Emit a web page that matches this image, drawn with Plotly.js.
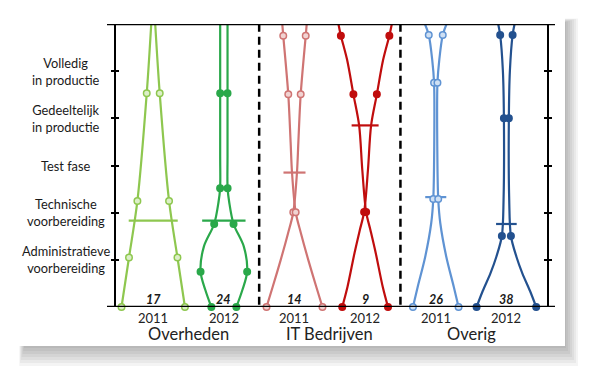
<!DOCTYPE html>
<html>
<head>
<meta charset="utf-8">
<script src="https://cdn.plot.ly/plotly-3.0.1.min.js"></script>
<style>html,body{margin:0;padding:0;background:#fff;}#chart{width:595px;height:378px;}</style>
</head>
<body>
<div id="chart"></div>
<script>
// ---- data ----
const groupNames = ['Overheden', 'IT Bedrijven', 'Overig'];
const yearLabels = ['2011', '2012', '2011', '2012', '2011', '2012'];
const counts = [17, 24, 14, 9, 26, 38];
const stageLabels = ['Administratieve<br>voorbereiding', 'Technische<br>voorbereiding', 'Test fase',
                     'Gedeeltelijk<br>in productie', 'Volledig<br>in productie'];
const stageValues = [1, 2, 3, 4, 5];

// profile of each shape: level (y) and offset of one curve from the centre (x units)
const ov11Level = [0, 1.05, 2.25, 4.53, 6.0];
const ov11Width = [0.449, 0.343, 0.224, 0.092, 0.028];
const ov11Dots  = [0, 1, 2, 3];

const ov12Level = [0, 0.36, 0.75, 1.28, 1.76, 2.22, 2.52, 3.2, 4.53, 6.0];
const ov12Width = [0.177, 0.262, 0.330, 0.283, 0.137, 0.076, 0.053, 0.052, 0.052, 0.052];
const ov12Dots  = [0, 2, 4, 6, 8];

const it11Level = [0, 0.445, 1.0, 1.57, 2.01, 2.85, 3.5, 4.51, 5.75, 6.0];
const it11Width = [0.396, 0.305, 0.195, 0.090, 0.017, -0.035, -0.055, -0.088, -0.159, -0.173];
const it11Dots  = [0, 4, 7, 8];

const it12Level = [0, 0.424, 1.145, 1.632, 2.014, 2.904, 3.852, 4.509, 5.24, 5.752, 6.0];
const it12Width = [0.324, 0.250, 0.150, 0.075, 0.014, -0.040, -0.085, -0.166, -0.255, -0.343, -0.378];
const it12Dots  = [0, 4, 7, 9];

const ovr11Level = [0, 0.43, 1.066, 1.781, 2.29, 3.33, 4.755, 5.24, 5.766, 6.0];
const ovr11Width = [0.323, 0.255, 0.149, 0.064, 0.035, 0.022, 0.024, 0.050, 0.099, 0.153];
const ovr11Dots  = [0, 4, 6, 8];

const ovr12Level = [0, 0.339, 0.714, 1.066, 1.505, 2.27, 4.0, 5.02, 5.766, 6.0];
const ovr12Width = [0.422, 0.335, 0.226, 0.142, 0.064, 0.040, 0.035, 0.050, 0.088, 0.116];
const ovr12Dots  = [0, 4, 6, 8];

const meanLevel = [1.83, 1.83, 2.85, 3.85, 2.33, 1.76];
const meanHalf  = [0.347, 0.307, 0.156, 0.191, 0.149, 0.146];

// ---- styles ----
const lineColors = ['#8ec74f', '#2aa84a', '#cf7473', '#c00d0d', '#5f93d3', '#23518f'];
const dotFill    = ['#dcefc8', '#2aa84a', '#f1d3d2', '#c00d0d', '#cfe0f4', '#23518f'];

const profiles = [
  [ov11Level, ov11Width, ov11Dots],
  [ov12Level, ov12Width, ov12Dots],
  [it11Level, it11Width, it11Dots],
  [it12Level, it12Width, it12Dots],
  [ovr11Level, ovr11Width, ovr11Dots],
  [ovr12Level, ovr12Width, ovr12Dots]
];

const traces = [];
profiles.forEach(function (p, k) {
  const lv = p[0], w = p[1], d = p[2];
  [-1, 1].forEach(function (s) {
    traces.push({
      x: w.map(function (v) { return k + s * v; }), y: lv,
      mode: 'lines', line: {color: lineColors[k], width: 2.2, shape: 'spline', smoothing: 0.9},
      hoverinfo: 'skip', showlegend: false
    });
  });
  traces.push({
    x: [k - meanHalf[k], k + meanHalf[k]], y: [meanLevel[k], meanLevel[k]],
    mode: 'lines', line: {color: lineColors[k], width: 2.2},
    hoverinfo: 'skip', showlegend: false
  });
  [-1, 1].forEach(function (s) {
    traces.push({
      x: d.map(function (i) { return k + s * w[i]; }), y: d.map(function (i) { return lv[i]; }),
      mode: 'markers',
      marker: {size: 6.5, color: dotFill[k], line: {color: lineColors[k], width: 1.5}},
      hoverinfo: 'skip', showlegend: false, cliponaxis: false
    });
  });
});

// small dots under the separators
traces.push({
  x: [1.5, 3.5], y: [-0.13, -0.13], mode: 'markers', yaxis: 'y2',
  marker: {size: 2.5, color: '#222'}, cliponaxis: false, hoverinfo: 'skip', showlegend: false
});

// ---- layout ----
const W = 595, H = 378, L = 116, R = 48, T = 24, B = 71;
const pw = W - L - R, ph = H - T - B;
function px2x(p) { return (p - L) / pw; }
function py2y(p) { return (H - B - p) / ph; }

const shapes = [];
// card shadow (mostly bottom / right)
for (let i = 0; i < 7; i++) {
  const e = 12 - i * 2;
  shapes.push({type: 'rect', xref: 'paper', yref: 'paper', layer: 'below',
    x0: px2x(24 - e * 0.4), x1: px2x(566 + e), y0: py2y(348 + e * 1.5), y1: py2y(22 - e * 0.3),
    fillcolor: 'rgba(0,0,0,0.045)', line: {width: 0}});
}
shapes.push({type: 'rect', xref: 'paper', yref: 'paper', layer: 'below',
  x0: px2x(17), x1: px2x(565), y0: py2y(346), y1: py2y(16),
  fillcolor: '#ffffff', line: {width: 0}});
// top & bottom frame lines
[0, 6].forEach(function (yv) {
  shapes.push({type: 'line', xref: 'paper', yref: 'y', x0: px2x(107), x1: px2x(555), y0: yv, y1: yv,
    line: {color: '#000', width: 2.5}});
});
// separators
[1.5, 3.5].forEach(function (xv) {
  shapes.push({type: 'line', xref: 'x', yref: 'y', x0: xv, x1: xv, y0: 0.05, y1: 6,
    line: {color: '#000', width: 2.5, dash: '8px,5px'}});
});

const annotations = [];
stageLabels.forEach(function (t, i) {
  annotations.push({text: t, xref: 'paper', yref: 'y', x: px2x(66), y: stageValues[i],
    xanchor: 'center', yanchor: 'middle', showarrow: false,
    font: {family: 'Lato, sans-serif', size: 12.8, color: '#1a1a1a'}});
});
counts.forEach(function (c, k) {
  annotations.push({text: '<b><i>' + c + '</i></b>', xref: 'x', yref: 'paper', x: k, y: py2y(299),
    xanchor: 'center', yanchor: 'middle', showarrow: false,
    font: {family: 'Lato, sans-serif', size: 12.5, color: '#1a1a1a'}});
  annotations.push({text: yearLabels[k], xref: 'x', yref: 'paper', x: k, y: py2y(318),
    xanchor: 'center', yanchor: 'middle', showarrow: false,
    font: {family: 'Lato, sans-serif', size: 13, color: '#222'}});
});
groupNames.forEach(function (g, j) {
  annotations.push({text: g, xref: 'x', yref: 'paper', x: 2 * j + 0.5, y: py2y(334),
    xanchor: 'center', yanchor: 'middle', showarrow: false,
    font: {family: 'Lato, sans-serif', size: 16.5, color: '#222'}});
});

const layout = {
  width: W, height: H,
  margin: {l: L, r: R, t: T, b: B, pad: 0},
  paper_bgcolor: '#ffffff', plot_bgcolor: 'rgba(0,0,0,0)',
  showlegend: false,
  xaxis: {range: [-0.527, 5.575], showgrid: false, zeroline: false, showticklabels: false,
          showline: false, ticks: '', fixedrange: true},
  yaxis: {range: [0, 6], tickvals: stageValues, ticks: 'outside', ticklen: 3, tickwidth: 2,
          tickcolor: '#000', showline: true, linecolor: '#000', linewidth: 2.2, mirror: 'ticks',
          showticklabels: false, showgrid: false, zeroline: false, fixedrange: true},
  yaxis2: {range: [0, 6], overlaying: 'y', tickvals: stageValues, ticks: 'inside', ticklen: 3,
           tickwidth: 2, tickcolor: '#000', showline: false, mirror: 'ticks',
           showticklabels: false, showgrid: false, zeroline: false, fixedrange: true},
  shapes: shapes,
  annotations: annotations
};

Plotly.newPlot('chart', traces, layout, {displayModeBar: false, staticPlot: true});
</script>
</body>
</html>
